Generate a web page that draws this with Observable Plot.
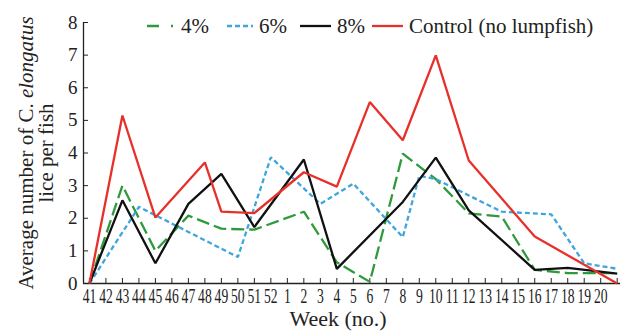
<!DOCTYPE html>
<html>
<head>
<meta charset="utf-8">
<script src="https://cdn.jsdelivr.net/npm/d3@7"></script>
<script src="https://cdn.jsdelivr.net/npm/@observablehq/plot@0.6"></script>
<style>
  html, body { margin: 0; padding: 0; background: #fff; }
  #wrap { position: relative; width: 627px; height: 332px; font-family: "Liberation Serif", serif; color: #222; }
  .leg { position: absolute; top: 14px; height: 24px; display: flex; align-items: center; font-size: 21px; white-space: nowrap; }
  .leg svg { display: block; }
</style>
</head>
<body>
<div id="wrap"></div>
<script>
// Week categories (last position is the unlabelled end tick)
const weekLabels = ["41","42","43","44","45","46","47","48","49","50","51","52",
  "1","2","3","4","5","6","7","8","9","10","11","12","13","14","15","16","17","18","19","20",""];
const yTicks = [0,1,2,3,4,5,6,7,8];

// 4%
const g4Weeks = ["41","43","45","47","49","51","2","4","6","8","10","12","14","16","18",""];
const g4Vals  = [0, 3.0, 1.0, 2.08, 1.68, 1.65, 2.2, 0.65, 0.05, 3.98, 3.2, 2.15, 2.05, 0.42, 0.32, 0.32];
// 6%
const b6Weeks = ["41","44","50","52","3","5","8","9","10","12","14","17","19",""];
const b6Vals  = [0, 2.35, 0.81, 3.87, 2.44, 3.06, 1.42, 3.3, 3.2, 2.7, 2.2, 2.12, 0.62, 0.45];
// 8%
const k8Weeks = ["41","43","45","47","49","51","2","4","8","10","12","16","18",""];
const k8Vals  = [0, 2.55, 0.62, 2.44, 3.36, 1.73, 3.8, 0.45, 2.5, 3.86, 2.24, 0.42, 0.48, 0.3];
// Control (no lumpfish)
const ctWeeks = ["41","43","45","48","49","51","2","4","6","8","10","12","16",""];
const ctVals  = [0, 5.15, 2.02, 3.71, 2.2, 2.16, 3.41, 2.97, 5.56, 4.39, 6.99, 3.77, 1.44, 0];

const seriesNames = ["4%", "6%", "8%", "Control (no lumpfish)"];
const seriesColors = ["#2f9a3c", "#3fa5dc", "#111111", "#e8302a"];
const seriesDash = ["13,5", "5,3", null, null];

const idx = w => weekLabels.indexOf(w);
const toRows = (ws, vs) => ws.map((w, i) => ({x: idx(w), y: vs[i]}));
const allSeries = [toRows(g4Weeks, g4Vals), toRows(b6Weeks, b6Vals), toRows(k8Weeks, k8Vals), toRows(ctWeeks, ctVals)];

const xDomain = [-0.36, 32.2];
const serif = "Liberation Serif";

const chart = Plot.plot({
  width: 627,
  height: 332,
  marginLeft: 83,
  marginRight: 7,
  marginTop: 22,
  marginBottom: 49,
  style: {fontFamily: serif, fontSize: "19px", color: "#222", background: "#fff"},
  x: {type: "linear", domain: xDomain, axis: null},
  y: {domain: [0, 8], axis: null},
  marks: [
    Plot.axisX({ticks: d3.range(weekLabels.length), tickFormat: i => weekLabels[i], tickSize: -5, tickPadding: 10, label: null, stroke: "#222", fontSize: 20, fontFamily: serif}),
    Plot.axisY({ticks: yTicks, tickSize: -5, tickPadding: 11, label: null, stroke: "#222", fontSize: 19, fontFamily: serif}),
    Plot.ruleY([0], {stroke: "#222", strokeWidth: 1.3}),
    Plot.ruleX([xDomain[0]], {stroke: "#222", strokeWidth: 1.3}),
    ...allSeries.map((rows, i) => Plot.line(rows, {x: "x", y: "y", stroke: seriesColors[i], strokeWidth: 2.3, strokeDasharray: seriesDash[i], strokeLinejoin: "miter", strokeLinecap: "butt"}))
  ]
});

const svg = d3.select(chart);
// condense x tick labels
svg.selectAll('[aria-label="x-axis tick label"] text').each(function() {
  const x = this.getAttribute("x");
  let t = this.getAttribute("transform") || "";
  if (x !== null) { t += ` translate(${x},0)`; this.removeAttribute("x"); }
  this.setAttribute("transform", t + " scale(0.68,1)");
});

// y-axis title (two lines)
const yl = svg.append("text")
  .attr("transform", "translate(26,153) rotate(-90)")
  .attr("text-anchor", "middle").attr("dy", "0.35em")
  .attr("font-size", 21).attr("fill", "#222").attr("font-family", serif);
yl.append("tspan").text("Average number of ");
yl.append("tspan").text("C. ");
yl.append("tspan").attr("font-style", "italic").text("elongatus");
svg.append("text")
  .attr("transform", "translate(46,153) rotate(-90)")
  .attr("text-anchor", "middle").attr("dy", "0.35em")
  .attr("font-size", 21).attr("fill", "#222").attr("font-family", serif)
  .text("lice per fish");
// x-axis title
svg.append("text")
  .attr("x", 338).attr("y", 318).attr("dy", "0.35em")
  .attr("text-anchor", "middle").attr("font-size", 22).attr("fill", "#222").attr("font-family", serif)
  .text("Week (no.)");

const wrap = document.getElementById("wrap");
wrap.appendChild(chart);
chart.style.position = "absolute"; chart.style.left = "0"; chart.style.top = "0";

// legend
const legLeft = [147, 227, 300, 372];
const legSampleW = [28, 26, 31, 31];
const legDash = ["12,12,2", "5,3", null, null];
seriesNames.forEach((name, i) => {
  const d = document.createElement("div");
  d.className = "leg";
  d.style.left = legLeft[i] + "px";
  const s = d3.create("svg").attr("width", legSampleW[i]).attr("height", 10);
  s.append("line").attr("x1", 0).attr("x2", legSampleW[i]).attr("y1", 5).attr("y2", 5)
    .attr("stroke", seriesColors[i]).attr("stroke-width", 2.3)
    .attr("stroke-dasharray", legDash[i]);
  d.appendChild(s.node());
  const t = document.createElement("span");
  t.textContent = name;
  t.style.marginLeft = "6px";
  d.appendChild(t);
  wrap.appendChild(d);
});
</script>
</body>
</html>
